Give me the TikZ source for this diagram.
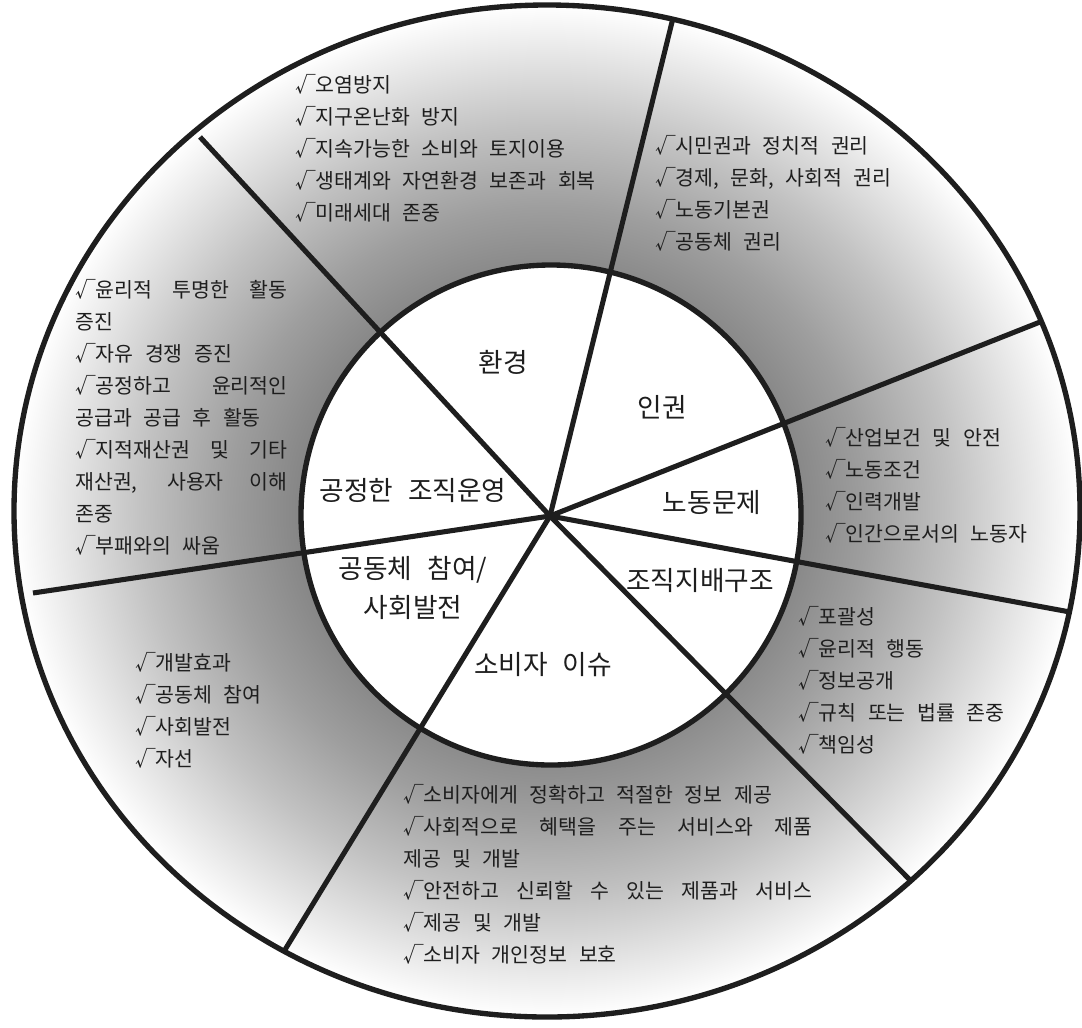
\documentclass[tikz,border=0pt]{standalone}
\usepackage{fontspec}
\usepackage{xcolor}
\usepackage{tikz}
\usetikzlibrary{positioning}
\newfontfamily\kr[WordSpace=2.5]{Noto Sans CJK KR}
\definecolor{ink}{RGB}{30,30,30}
\pgfdeclareradialshading{ring}{\pgfpoint{0bp}{0bp}}{%
  color(0bp)=(black!47);color(11.8bp)=(black!47);color(15bp)=(black!38);%
  color(19bp)=(black!24);color(23bp)=(black!8);color(25bp)=(white);color(50bp)=(white)}

\begin{document}
\begin{tikzpicture}[
        x=0.025cm, y=-0.025cm,
        rim/.style={draw=ink, line width=3.8pt},
        spoke/.style={draw=ink, line width=3.6pt},
        topic/.style={font=\kr\fontsize{19}{28}\selectfont, align=center, text=ink},
        items/.style={font=\kr\fontsize{14.6}{22.75}\selectfont, align=left, anchor=north west, inner sep=0pt, text=ink}
    ]
        \useasboundingbox (0,0) rectangle (1082,1027);
        \fill[white] (0,0) rectangle (1082,1027);

        \shade[shading=ring] (547,511) ellipse [x radius=533, y radius=506];
        \fill[white] (551,515) circle [radius=250];

        \coordinate (hub) at (550,516);
        \coordinate (cut1) at (673,18);
        \coordinate (cut2) at (200,137);
        \coordinate (cut3) at (1040,322);
        \coordinate (cut4) at (1070,612);
        \coordinate (cut5) at (912,882);
        \coordinate (cut6) at (283,953);
        \coordinate (cut7) at (33,593);

        \draw[spoke] (hub) -- (cut1);
        \draw[spoke] (hub) -- (cut2);
        \draw[spoke] (hub) -- (cut3);
        \draw[spoke] (hub) -- (cut4);
        \draw[spoke] (hub) -- (cut5);
        \draw[spoke] (hub) -- (cut6);
        \draw[spoke] (hub) -- (cut7);

        \draw[rim] (547,511) ellipse [x radius=533, y radius=506];
        \draw[rim] (551,515) circle [radius=250];

        \node[topic] (env) at (503,362) {환경};
        \node[topic] (rights) at (662,407) {인권};
        \node[topic] (fair) at (413,490) {공정한 조직운영};
        \node[topic] (labor) at (712,502) {노동문제};
        \node[topic] (gov) at (700,580) {조직지배구조};
        \node[topic] (comm) at (413,588) {공동체 참여/\\사회발전};
        \node[topic] (consumer) at (543,665) {소비자 이슈};

        \node[items] (envlist) at (295,74) {√오염방지\\√지구온난화 방지\\√지속가능한 소비와 토지이용\\√생태계와 자연환경 보존과 회복\\√미래세대 존중};
        \node[items] (rightslist) at (655,135) {√시민권과 정치적 권리\\√경제, 문화, 사회적 권리\\√노동기본권\\√공동체 권리};
        \node[items] (fairlist) at (75,279) {\makebox[151pt][s]{√윤리적 투명한 활동}\\증진\\√자유 경쟁 증진\\\makebox[151pt][s]{√공정하고 윤리적인}\\공급과 공급 후 활동\\\makebox[151pt][s]{√지적재산권 및 기타}\\\makebox[151pt][s]{재산권, 사용자 이해}\\존중\\√부패와의 싸움};
        \node[items] (laborlist) at (825,427) {√산업보건 및 안전\\√노동조건\\√인력개발\\√인간으로서의 노동자};
        \node[items] (govlist) at (798,606) {√포괄성\\√윤리적 행동\\√정보공개\\√규칙 또는 법률 존중\\√책임성};
        \node[items] (commlist) at (135,652) {√개발효과\\√공동체 참여\\√사회발전\\√자선};
        \node[items] (consumerlist) at (403,784) {√소비자에게 정확하고 적절한 정보 제공\\\makebox[291pt][s]{√사회적으로 혜택을 주는 서비스와 제품}\\제공 및 개발\\\makebox[291pt][s]{√안전하고 신뢰할 수 있는 제품과 서비스}\\√제공 및 개발\\√소비자 개인정보 보호};
    \end{tikzpicture}
\end{document}
